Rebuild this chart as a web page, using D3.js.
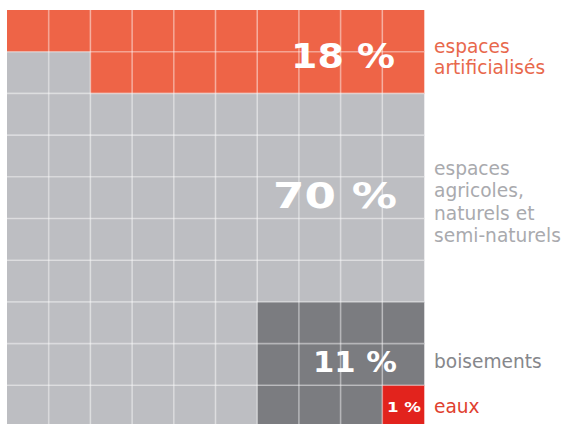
<!DOCTYPE html>
<html><head><meta charset="utf-8">
<script src="https://cdn.jsdelivr.net/npm/d3@7"></script>
<style>html,body{margin:0;padding:0;background:#fff;}svg{display:block;}</style>
</head><body>
<svg id="c" width="568" height="424"></svg>
<script>
const categories = ["artificial", "agricultural", "forest", "water"];
const values = [18, 70, 11, 1];
const colors = ["#ee6447", "#bdbec2", "#7b7c80", "#e2231d"];
const pctLabels = ["18 %", "70 %", "11 %", "1 %"];
const nameLabels = [["espaces", "artificialisés"], ["espaces", "agricoles,", "naturels et", "semi-naturels"], ["boisements"], ["eaux"]];
const nameColors = ["#e8684c", "#a9aaae", "#86878b", "#e0402e"];

const N = 10;
const svg = d3.select("#c");
const x = d3.scaleBand().domain(d3.range(N)).range([7, 424]).padding(0);
const y = d3.scaleBand().domain(d3.range(N)).range([10, 427]).padding(0);

// assign cells: default agricultural
const grid = d3.range(N).map(() => d3.range(N).map(() => 1));
// artificial: from top, right to left
let k = 0;
for (let r = 0; r < N && k < values[0]; r++)
  for (let c = N - 1; c >= 0 && k < values[0]; c--) { grid[r][c] = 0; k++; }
// water: bottom-right
k = 0;
for (let r = N - 1; r >= 0 && k < values[3]; r--)
  for (let c = N - 1; c >= 0 && k < values[3]; c--) { grid[r][c] = 3; k++; }
// forest: from bottom, within a 4-column block at right
const blockW = 4;
k = 0;
for (let r = N - 1; r >= 0 && k < values[2]; r--)
  for (let c = N - blockW; c < N && k < values[2]; c++) {
    if (grid[r][c] === 1) { grid[r][c] = 2; k++; }
  }

const cells = [];
for (let r = 0; r < N; r++) for (let c = 0; c < N; c++) cells.push({ r, c, cat: grid[r][c] });

svg.append("g").selectAll("rect").data(cells).join("rect")
  .attr("x", d => x(d.c)).attr("y", d => y(d.r))
  .attr("width", x.bandwidth() + 0.3).attr("height", y.bandwidth() + 0.3)
  .attr("fill", d => colors[d.cat]);

// percentage labels
const pctPos = [
  { x: 395, y: 68, size: 34, w: 104 },
  { x: 397, y: 208, size: 35, w: 124 },
  { x: 397, y: 372, size: 28, w: 84 },
  { x: 421, y: 412, size: 13.5, w: 34 }
];
svg.append("g").selectAll("text").data(pctLabels).join("text")
  .attr("x", (d, i) => pctPos[i].x - pctPos[i].w)
  .attr("y", (d, i) => pctPos[i].y)
  .attr("textLength", (d, i) => pctPos[i].w)
  .attr("lengthAdjust", "spacingAndGlyphs")
  .attr("font-family", "DejaVu Sans")
  .attr("font-weight", "bold")
  .attr("font-size", (d, i) => pctPos[i].size)
  .attr("fill", "#fff")
  .text(d => d);

// grid lines (on top)
const gl = svg.append("g").attr("stroke", "rgba(255,255,255,0.42)").attr("stroke-width", 1.6);
for (let i = 1; i < N; i++) {
  gl.append("line").attr("x1", x(i)).attr("x2", x(i)).attr("y1", y(0)).attr("y2", 427);
  gl.append("line").attr("y1", y(i)).attr("y2", y(i)).attr("x1", x(0)).attr("x2", 424);
}

// category labels
const namePos = [
  { y: 53, lh: 20.5 },
  { y: 175, lh: 22.3 },
  { y: 368, lh: 22 },
  { y: 413, lh: 22 }
];
const lab = svg.append("g").attr("font-family", "DejaVu Sans").attr("font-size", 18.6);
nameLabels.forEach((lines, i) => {
  const t = lab.append("text").attr("fill", nameColors[i]);
  lines.forEach((s, j) => {
    t.append("tspan").attr("x", 434).attr("y", namePos[i].y + j * namePos[i].lh).text(s);
  });
});
</script>
</body></html>
